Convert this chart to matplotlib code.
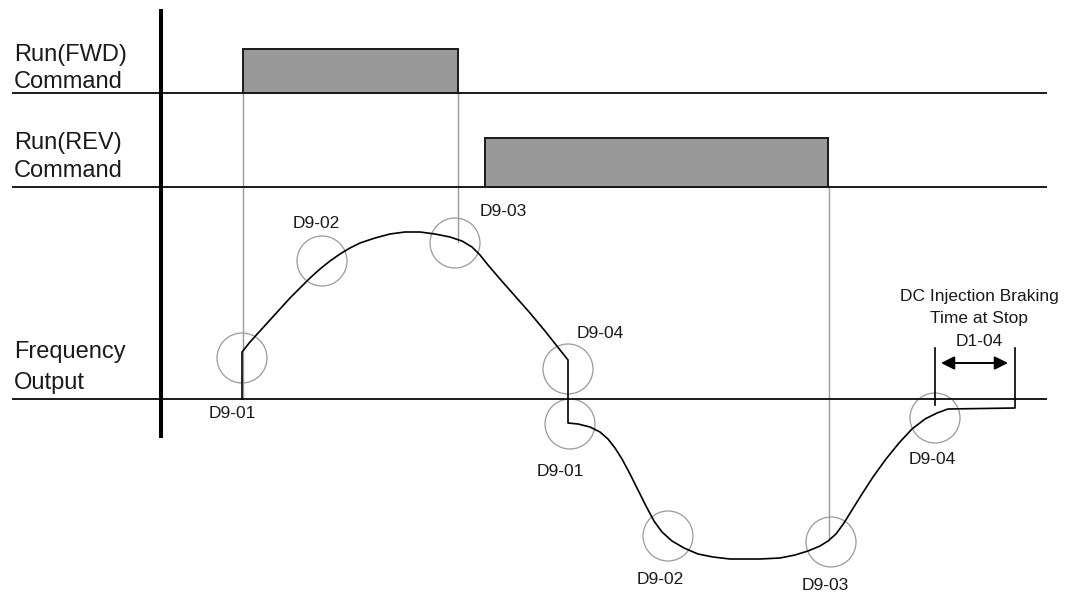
import numpy as np
import matplotlib.pyplot as plt
from matplotlib.patches import Rectangle, Circle

# Timing diagram, drawn in a pixel-like coordinate frame (y grows downward)

# signal rows: label lines, baseline y, pulse start/end, pulse top
row_labels = [("Run(FWD)", "Command"), ("Run(REV)", "Command"), ("Frequency", "Output")]
row_baselines = [93, 187, 399]
label_baselines = [(61, 88), (149, 177), (358, 389)]
pulse_start = [243, 485]
pulse_end = [458, 828]
pulse_top = [49, 138]

# frequency output curve
curve_x = [242, 242, 250, 260, 270, 280, 290, 300, 310, 320, 330, 340, 350, 360,
           375, 390, 405, 420, 435, 450, 462, 472, 480, 488, 500, 515, 530,
           545, 568, 568, 578, 590, 600, 608, 615, 622, 630, 638, 646, 654, 662,
           672, 684, 698, 713, 730, 760, 780, 795, 808, 820, 828, 836, 844, 852,
           862, 873, 886, 899, 912, 925, 937, 948, 1015, 1015]
curve_y = [399, 352, 342, 331, 320, 309, 298, 288, 278, 269, 261, 254, 248, 243,
           238, 234, 232, 232, 234, 237, 241, 247, 255, 265, 279, 296, 313,
           331, 360, 423, 424, 427, 432, 439, 448, 459, 474, 490, 506, 521, 532,
           541, 548, 554, 557, 559, 559, 558, 555, 551, 546, 541, 534, 523, 510,
           494, 477, 459, 443, 429, 419, 413, 409, 408, 348]

# gray guide lines (x, y from, y to)
guide_x = [243, 458, 829]
guide_y0 = [93, 93, 187]
guide_y1 = [399, 242, 540]

# highlighted points
circle_x = [242, 322, 455, 568, 570, 668, 831, 935]
circle_y = [358, 261, 243, 369, 424, 536, 542, 418]
circle_r = 25

# parameter labels (text, centre x, centre y)
param_text = ["D9-01", "D9-02", "D9-03", "D9-04", "D9-01", "D9-02", "D9-03", "D9-04"]
param_x = [232, 316, 503, 600, 560, 660, 825, 932]
param_y = [413, 223, 211, 333, 471, 580, 585, 460]

# DC injection braking annotation
dc_lines = ["DC Injection Braking", "Time at Stop", "D1-04"]
dc_x = 979
dc_y = [296, 318, 341]
bracket_left, bracket_right = 935, 1015
bracket_top = 348
arrow_y = 363

plt.rcParams['font.family'] = ['Liberation Sans', 'DejaVu Sans']
fig = plt.figure(figsize=(10.75, 5.96), dpi=100)
ax = fig.add_axes([0, 0, 1, 1])
ax.set_xlim(0, 1075)
ax.set_ylim(596, 0)
ax.axis('off')

ink = '#1a1a1a'
gray = '#9a9a9a'

# row baselines and labels
for (l1, l2), yb, (b1, b2) in zip(row_labels, row_baselines, label_baselines):
    ax.plot([12, 1047], [yb, yb], color=ink, lw=1.4, solid_capstyle='butt', zorder=3)
    ax.text(14, b1, l1, fontsize=17, color=ink, va='baseline', ha='left')
    ax.text(14, b2, l2, fontsize=17, color=ink, va='baseline', ha='left')

# thick vertical axis
ax.plot([161, 161], [9, 438], color='black', lw=2.9, solid_capstyle='butt', zorder=4)

# command pulses
for x0, x1, top, yb in zip(pulse_start, pulse_end, pulse_top, row_baselines[:2]):
    ax.add_patch(Rectangle((x0, top), x1 - x0, yb - top, facecolor='#999999',
                           edgecolor=ink, lw=1.4, zorder=2))

# gray guide lines
for gx, y0, y1 in zip(guide_x, guide_y0, guide_y1):
    ax.plot([gx, gx], [y0, y1], color=gray, lw=1.0, zorder=1)

# circles
for cx, cy in zip(circle_x, circle_y):
    ax.add_patch(Circle((cx, cy), circle_r, fill=False, edgecolor=gray, lw=0.9, zorder=2))

# frequency curve
ax.plot(curve_x, curve_y, color='black', lw=1.2, zorder=5, solid_joinstyle='round')

# parameter labels
for t, tx, ty in zip(param_text, param_x, param_y):
    ax.text(tx, ty, t, fontsize=12.5, color=ink, ha='center', va='center')

# braking annotation
for t, ty in zip(dc_lines, dc_y):
    ax.text(dc_x, ty, t, fontsize=12.5, color=ink, ha='center', va='center')
ax.plot([bracket_left, bracket_left], [bracket_top, 405], color='black', lw=1.2, zorder=5)
ax.annotate('', xy=(bracket_left + 6, arrow_y), xytext=(bracket_right - 7, arrow_y),
            arrowprops=dict(arrowstyle='<|-|>', color='black', lw=1.4,
                            mutation_scale=20, shrinkA=0, shrinkB=0))

fig.savefig('out.png', dpi=100)
